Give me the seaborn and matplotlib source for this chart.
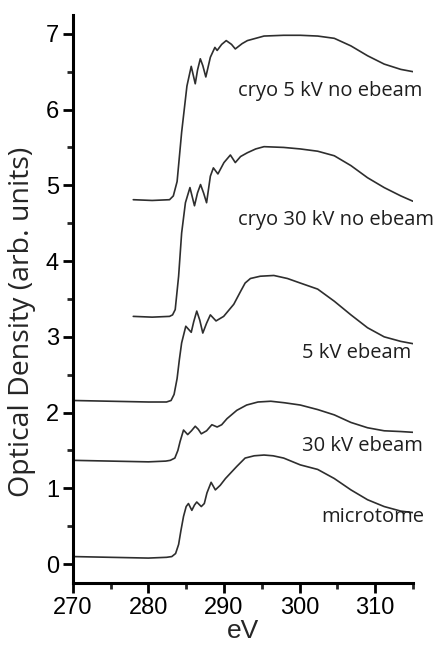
import numpy as np
import pandas as pd
import seaborn as sns
import matplotlib.pyplot as plt

# spectra (eV, optical density, already offset)
ev_microtome = [270, 275, 280, 282.4, 283.1, 283.6, 284.0, 284.3, 284.65, 285.0, 285.3, 285.75,
                286.1, 286.4, 287.0, 287.4, 287.75, 288.3, 288.86, 289.5, 290.2, 291.7, 292.8,
                294.0, 295.3, 296.5, 297.9, 300.1, 302.4, 304.6, 306.8, 309.0, 311.2, 313.4,
                315.0]
od_microtome = [0.10, 0.09, 0.08, 0.09, 0.10, 0.14, 0.26, 0.44, 0.63, 0.76, 0.80, 0.71,
                0.78, 0.82, 0.76, 0.80, 0.94, 1.08, 0.98, 1.04, 1.13, 1.29, 1.40,
                1.43, 1.44, 1.43, 1.40, 1.31, 1.25, 1.13, 0.98, 0.85, 0.76, 0.70,
                0.68]

ev_30kv = [270, 275, 280, 282.3, 282.9, 283.5, 283.9, 284.2, 284.65, 285.2, 285.7, 286.2,
           286.6, 287.0, 287.7, 288.4, 289.1, 289.7, 290.4, 291.7, 293.0, 294.5, 296.2,
           298.0, 300.1, 302.4, 304.6, 306.8, 309.0, 311.2, 313.4, 315.0]
od_30kv = [1.37, 1.36, 1.35, 1.36, 1.37, 1.40, 1.50, 1.62, 1.77, 1.71, 1.76, 1.82,
           1.78, 1.72, 1.76, 1.84, 1.81, 1.84, 1.92, 2.03, 2.10, 2.14, 2.15,
           2.13, 2.10, 2.04, 1.97, 1.87, 1.80, 1.76, 1.75, 1.74]

ev_5kv = [270, 275, 280, 282.4, 283.0, 283.4, 283.8, 284.1, 284.4, 284.95, 285.67, 286.0,
          286.4, 286.8, 287.2, 287.7, 288.2, 288.95, 289.96, 291.3, 292.2, 292.8, 293.5,
          294.8, 296.6, 298.4, 300.1, 302.4, 304.6, 306.8, 309.0, 311.2, 313.4, 315.0]
od_5kv = [2.16, 2.15, 2.14, 2.14, 2.16, 2.24, 2.45, 2.70, 2.92, 3.14, 3.06, 3.20,
          3.34, 3.22, 3.05, 3.18, 3.29, 3.21, 3.27, 3.43, 3.60, 3.71, 3.77,
          3.80, 3.81, 3.77, 3.71, 3.63, 3.47, 3.29, 3.12, 3.00, 2.94, 2.91]

ev_cryo30 = [278.0, 280.5, 282.8, 283.2, 283.55, 284.0, 284.4, 284.9, 285.5, 286.1, 286.5,
             286.9, 287.3, 287.7, 288.2, 288.6, 289.2, 290.0, 290.85, 291.5, 292.2, 293.1,
             294.2, 295.3, 297.9, 300.1, 302.4, 304.6, 306.8, 309.0, 311.2, 313.4, 315.0]
od_cryo30 = [3.27, 3.26, 3.27, 3.29, 3.36, 3.80, 4.37, 4.77, 4.97, 4.73, 4.90,
             5.01, 4.90, 4.77, 5.12, 5.23, 5.15, 5.30, 5.40, 5.30, 5.38, 5.43,
             5.48, 5.51, 5.50, 5.48, 5.45, 5.39, 5.26, 5.10, 4.97, 4.86, 4.79]

ev_cryo5 = [278.0, 280.5, 282.8, 283.3, 283.8, 284.4, 285.1, 285.67, 286.2, 286.5, 286.87,
            287.2, 287.6, 288.2, 288.8, 289.1, 289.7, 290.3, 291.0, 291.5, 292.4, 293.1,
            294.2, 295.3, 297.9, 300.1, 302.4, 304.6, 306.8, 309.0, 311.2, 313.4, 315.0]
od_cryo5 = [4.81, 4.80, 4.81, 4.86, 5.05, 5.70, 6.31, 6.57, 6.34, 6.52, 6.67,
            6.58, 6.43, 6.69, 6.82, 6.78, 6.86, 6.91, 6.86, 6.80, 6.87, 6.91,
            6.94, 6.97, 6.98, 6.98, 6.97, 6.94, 6.84, 6.71, 6.60, 6.53, 6.50]

names = ["microtome", "30 kV ebeam", "5 kV ebeam", "cryo 30 kV no ebeam", "cryo 5 kV no ebeam"]
label_x = [316.5, 316.35, 314.75, 317.8, 316.2]
label_y = [0.62, 1.56, 2.79, 4.54, 6.24]

sns.set_style("ticks")
fig = plt.figure(figsize=(4.36, 6.45), dpi=100)
ax = fig.add_axes([0.167, 0.096, 0.78, 0.881])

curves = [(ev_microtome, od_microtome), (ev_30kv, od_30kv), (ev_5kv, od_5kv),
          (ev_cryo30, od_cryo30), (ev_cryo5, od_cryo5)]
for (ev, od), name in zip(curves, names):
    df = pd.DataFrame({"eV": ev, "od": od})
    sns.lineplot(data=df, x="eV", y="od", ax=ax, color="#2e2e2e", linewidth=1.2,
                 solid_joinstyle="round")

for name, lx, ly in zip(names, label_x, label_y):
    ax.text(lx, ly, name, ha="right", va="center", fontsize=14.5,
            family="Open Sans", color="#1e1e1e")

ax.set_xlim(270, 315)
ax.set_ylim(-0.25, 7.25)
ax.set_xticks([270, 280, 290, 300, 310])
ax.set_xticks([275, 285, 295, 305, 315], minor=True)
ax.set_yticks(range(0, 8))
ax.set_yticks(np.arange(0.5, 7.0, 1.0), minor=True)
ax.set_xlabel("eV", fontsize=19, family="Liberation Sans", labelpad=0)
ax.set_ylabel("Optical Density (arb. units)", fontsize=20.5, family="Open Sans")
ax.yaxis.set_label_coords(-0.108, 0.46)

sns.despine(ax=ax)
for side in ["left", "bottom"]:
    ax.spines[side].set_linewidth(2.2)
    ax.spines[side].set_color("black")
ax.tick_params(which="major", direction="out", length=7, width=2.0, labelsize=17,
               colors="black", pad=3)
ax.tick_params(which="minor", direction="out", length=4, width=2.0)
for lab in ax.get_xticklabels() + ax.get_yticklabels():
    lab.set_family("Liberation Sans")

fig.savefig("out.png", dpi=100)
